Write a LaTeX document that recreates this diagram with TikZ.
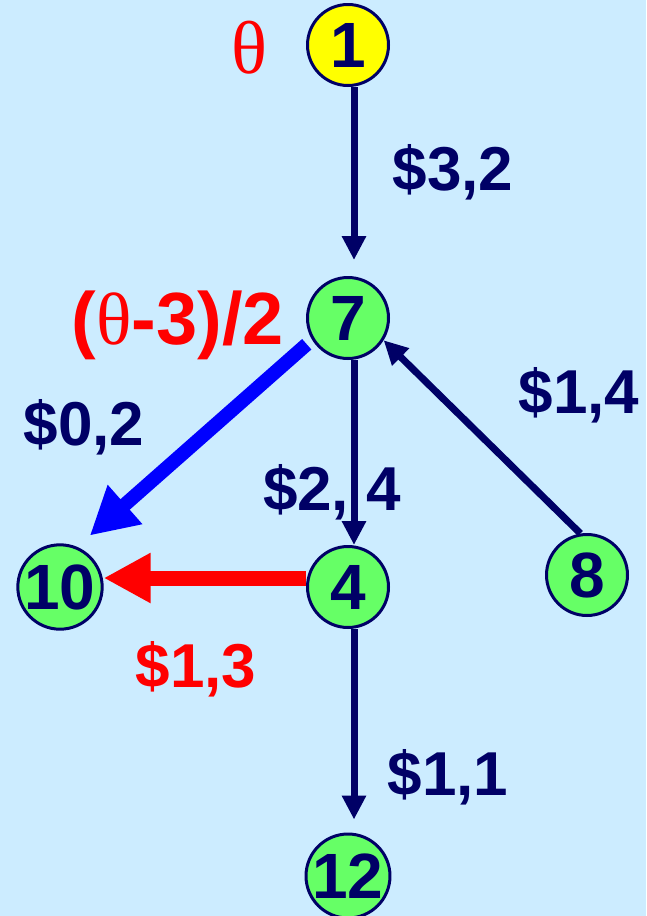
\documentclass[tikz,border=0pt]{standalone}
\usepackage{fontspec}
\setmainfont{Liberation Sans}
\newfontfamily\thetafont{Liberation Serif}
\usetikzlibrary{arrows.meta}
\definecolor{bg}{RGB}{204,236,255}
\definecolor{navy}{RGB}{0,0,102}
\definecolor{nodegreen}{RGB}{102,255,102}
\definecolor{nodeyellow}{RGB}{255,255,0}
\begin{document}
\begin{tikzpicture}[x=1pt,y=-1pt,
  vertex/.style={circle,draw=navy,line width=3pt,fill=nodegreen,minimum size=81pt,inner sep=0pt,
    font=\fontsize{64}{64}\selectfont\bfseries,text=navy},
  lbl/.style={anchor=base,inner sep=0pt,font=\fontsize{62}{62}\selectfont\bfseries,text=navy},
  navyarrow/.style={draw=navy,line width=7pt,-{Triangle[length=24pt,width=23pt]}},
  bluearrow/.style={draw=blue,line width=14pt,-{Triangle[length=47pt,width=49pt]}},
  redarrow/.style={draw=red,line width=15pt,-{Triangle[length=47pt,width=47pt]}}]
\fill[bg] (0,0) rectangle (646,916);
\useasboundingbox (0,0) rectangle (646,916);

\node[vertex,fill=nodeyellow] (n1) at (348,45) {1};
\node[vertex] (n7) at (348,318) {7};
\node[vertex] (n4) at (348,587) {4};
\node[vertex] (n10) at (60,587) {10};
\node[vertex] (n8) at (587,575) {8};
\node[vertex] (n12) at (348,876) {12};

\draw[navyarrow] ([xshift=6pt]n1.south) -- ([xshift=6pt,yshift=16pt]n7.north);
\draw[navyarrow] ([xshift=6pt]n7.south) -- ([xshift=6pt]n4.north);
\draw[navyarrow] ([xshift=6pt]n4.south) -- ([xshift=6pt,yshift=13pt]n12.north);
\draw[navyarrow] (n8.99) -- (n7.-32);
\draw[bluearrow,shorten <=7pt,shorten >=17pt] (n7.211) -- (n10.67);
\draw[redarrow] ([yshift=9pt]n4.west) -- ([yshift=9pt]n10.east);

\node[anchor=base,inner sep=0pt,text=red,font=\fontsize{75}{75}\selectfont\thetafont] (theta) at (249,73) {θ};
\node[lbl] (c32) at (453,190) {\$3,2};
\node[lbl,text=red,font=\fontsize{74}{74}\selectfont\bfseries] (frac) at (178,344) {(\textmd{\thetafont θ}-3)/2};
\node[lbl] (c02) at (84,445) {\$0,2};
\node[lbl] (c24) at (332,510) {\$2, 4};
\node[lbl] (c14) at (579,413) {\$1,4};
\node[lbl,text=red] (c13) at (196,687) {\$1,3};
\node[lbl] (c11) at (448,795) {\$1,1};
\end{tikzpicture}
\end{document}
